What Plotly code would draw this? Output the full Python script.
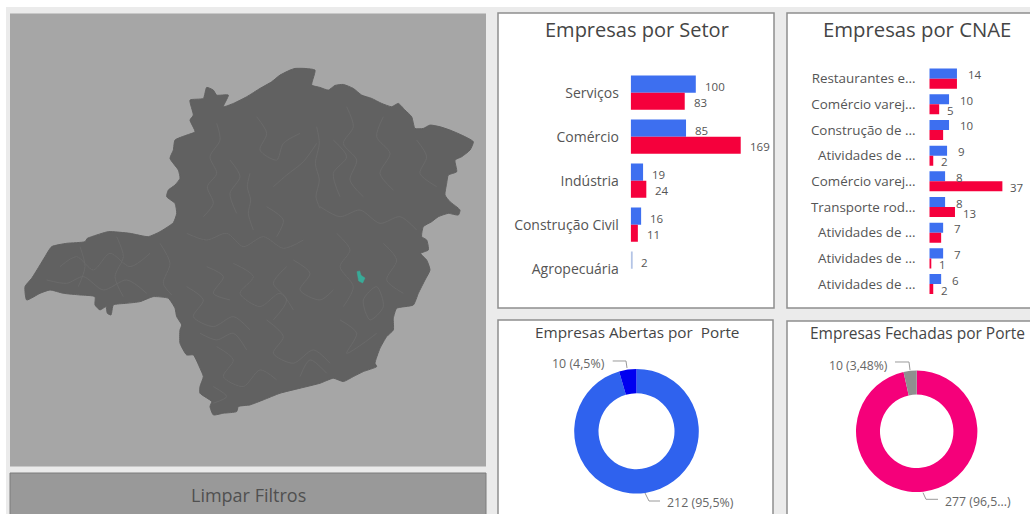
import plotly.graph_objects as go

W, H = 1030, 514

# ---------- data ----------
SETOR_CATS = ["Serviços", "Comércio", "Indústria", "Construção Civil", "Agropecuária"]
SETOR_ABERTAS = [100, 85, 19, 16, 2]
SETOR_FECHADAS = [83, 169, 24, 11, None]

CNAE_CATS = ["Restaurantes e...", "Comércio varej...", "Construção de ...", "Atividades de ...",
             "Comércio varej...", "Transporte rod...", "Atividades de ...", "Atividades de ...",
             "Atividades de ..."]
CNAE_ABERTAS = [14, 10, 10, 9, 8, 8, 7, 7, 6]
CNAE_FECHADAS = [14, 5, 7, 2, 37, 13, 6, 1, 2]
CNAE_FECHADAS_LABEL = [False, True, False, True, True, True, False, True, True]

ABERTAS_VALUES = [212, 10]
ABERTAS_TEXT = ["212 (95,5%)", "10 (4,5%)"]
FECHADAS_VALUES = [277, 10]
FECHADAS_TEXT = ["277 (96,5...)", "10 (3,48%)"]

# Outline of the state in map units
MAP_X = [885,915,945,938,935,960,985,1005,1030,1060,1085,1115,1145,1175,1195,1215,1235,1245,1270,1290,1320,1350,1385,1420,
         1410,1385,1365,1370,1345,1340,1335,1350,1380,1375,1345,1315,1295,1270,1265,1280,1285,1262,1280,1290,1275,1255,1240,
         1190,1180,1180,1160,1140,1125,1130,1090,1060,1030,1000,960,900,840,790,750,715,710,670,640,630,635,600,600,610,600,
         580,560,540,540,545,530,525,505,460,420,380,340,333,322,318,300,285,285,240,190,150,120,80,75,95,120,135,155,200,255,
         262,275,325,390,445,480,520,530,525,500,505,525,540,535,510,520,525,560,585,570,580,570,610,620,640,650,685,670,700,
         740,780,815,840,870,885]
MAP_Y = [205,205,210,240,255,262,270,256,253,265,285,295,310,320,310,330,350,385,385,375,380,390,405,425,
         450,470,480,515,525,550,585,605,630,645,640,650,665,680,710,720,750,760,780,810,840,880,915,
         925,955,990,1010,1045,1090,1100,1115,1130,1145,1135,1150,1165,1180,1200,1215,1220,1235,1240,1245,1220,1205,1180,1160,1130,1105,
         1065,1065,1030,990,975,950,925,895,890,905,910,915,945,940,920,930,915,890,885,880,870,880,900,860,835,795,770,740,730,725,
         715,710,695,700,710,695,668,640,610,590,570,555,535,510,475,450,420,405,395,360,345,300,295,262,270,285,285,320,310,
         290,265,245,225,210,205]

# Faint municipal borders inside the state, estimated in map units
BORDER_LINES = [
    [(750,520),(742,560),(752,600),(745,640),(760,690)],
    [(950,380),(958,430),(946,490),(958,540),(948,590),(960,625)],
    [(820,560),(860,525),(910,485),(950,430)],
    [(610,650),(640,610),(622,560),(650,520),(630,470),(660,420),(650,370)],
    [(770,350),(800,400),(780,450),(830,480),(850,430),(900,400)],
    [(1040,320),(1060,380),(1030,430),(1070,480),(1050,540),(1090,590)],
    [(1150,350),(1130,410),(1170,460),(1140,520),(1180,570)],
    [(1250,420),(1280,470),(1260,520),(1310,560)],
    [(960,620),(1020,650),(1080,630),(1140,670),(1200,650),(1250,690)],
    [(560,700),(620,720),(680,700),(730,740),(790,710),(850,745),(910,720)],
    [(1010,700),(1050,750),(1020,800),(1060,860),(1030,920)],
    [(1150,730),(1190,780),(1160,840),(1210,880)],
    [(880,780),(930,820),(900,870),(960,900),(1000,870)],
    [(700,790),(760,830),(720,880),(780,920),(840,880),(880,930)],
    [(560,860),(610,900),(580,950),(640,980),(700,950),(750,990)],
    [(800,960),(850,1010),(820,1060),(880,1090),(940,1050),(990,1090)],
    [(1020,960),(1070,1000),(1040,1060),(1090,1030),(1130,1000)],
    [(650,1040),(700,1080),(670,1130),(730,1160),(780,1110),(830,1140)],
    [(640,1160),(680,1190),(640,1210)],
    [(180,800),(230,770),(280,810),(330,760),(390,800),(450,760)],
    [(140,840),(200,850),(250,830),(310,870),(380,840),(440,880)],
    [(350,710),(370,770),(345,830),(370,890)],
    [(480,730),(510,790),(490,850),(515,885)],
    [(240,740),(255,800),(235,860)],
    [(600,1000),(650,1020),(700,1000),(740,1050)],
    [(900,1130),(930,1080),(980,1120)],
    [(1090,900),(1110,960),(1150,920),(1130,860),(1090,900)],
    [(620,800),(670,830),(640,880),(690,900)],
    [(800,620),(850,660),(830,710)],
    [(1000,420),(1040,470),(1000,520),(1020,590)],
    [(690,480),(720,530),(690,580),(710,640)],
    [(860,800),(820,850),(860,900),(820,960)],
]

# Highlighted municipality
HIGHLIGHT_X = [1071,1079,1083,1095,1088,1076,1071]
HIGHLIGHT_Y = [815,813,826,834,849,843,815]

# ---------- style ----------
BLUE = "#3d6ff0"
RED = "#f5003c"
TEXT = "#555555"
TITLE = "#454545"
FONT = "Open Sans"


def px(x):
    return x / W


def py(y):
    return 1 - y / H


fig = go.Figure()

# ---------- map ----------
border_x, border_y = [], []
for line in BORDER_LINES:
    border_x += [p[0] for p in line] + [None]
    border_y += [p[1] for p in line] + [None]

fig.add_trace(go.Scatter(x=MAP_X, y=MAP_Y, mode="lines", fill="toself", fillcolor="#616161",
                         line=dict(color="#616161", width=1, shape="spline", smoothing=0.5),
                         hoverinfo="skip", xaxis="x4", yaxis="y4"))
fig.add_trace(go.Scatter(x=border_x, y=border_y, mode="lines",
                         line=dict(color="#6c6c6c", width=0.8, shape="spline", smoothing=0.8),
                         connectgaps=False, hoverinfo="skip", xaxis="x4", yaxis="y4"))
fig.add_trace(go.Scatter(x=HIGHLIGHT_X, y=HIGHLIGHT_Y, mode="lines", fill="toself", fillcolor="#38ab98",
                         line=dict(color="#38ab98", width=0.5), hoverinfo="skip", xaxis="x4", yaxis="y4"))

# ---------- bars ----------
agro_colors = [BLUE] * (len(SETOR_CATS) - 1) + ["#b4c4e6"]
fig.add_trace(go.Bar(y=SETOR_CATS, x=SETOR_ABERTAS, orientation="h", marker=dict(color=agro_colors, line_width=0),
                     xaxis="x", yaxis="y", offsetgroup="a", hoverinfo="skip"))
fig.add_trace(go.Bar(y=SETOR_CATS, x=SETOR_FECHADAS, orientation="h", marker=dict(color=RED, line_width=0),
                     xaxis="x", yaxis="y", offsetgroup="b", hoverinfo="skip"))
y2_index = list(range(len(CNAE_CATS)))
fig.add_trace(go.Bar(y=y2_index, x=CNAE_ABERTAS, orientation="h", marker=dict(color=BLUE, line_width=0),
                     xaxis="x2", yaxis="y2", offsetgroup="a", hoverinfo="skip"))
fig.add_trace(go.Bar(y=y2_index, x=CNAE_FECHADAS, orientation="h", marker=dict(color=RED, line_width=0),
                     xaxis="x2", yaxis="y2", offsetgroup="b", hoverinfo="skip"))

annotations = []


def value_label(x, y, xref, yref, yshift, xshift):
    annotations.append(dict(x=x, y=y, xref=xref, yref=yref, text=str(x), showarrow=False, xanchor="left",
                            xshift=xshift, yshift=yshift, font=dict(family=FONT, size=11.5, color=TEXT)))


for cat, a, b in zip(SETOR_CATS, SETOR_ABERTAS, SETOR_FECHADAS):
    value_label(a, cat, "x", "y", 6, 7)
    if b is not None:
        value_label(b, cat, "x", "y", -10, 7)
for i, (a, b, show) in enumerate(zip(CNAE_ABERTAS, CNAE_FECHADAS, CNAE_FECHADAS_LABEL)):
    value_label(a, i, "x2", "y2", 4, 9)
    if show:
        value_label(b, i, "x2", "y2", -6, 6)


# ---------- donuts ----------
def donut_domain(cx, cy, r):
    return dict(x=[px(cx - r), px(cx + r)], y=[py(cy + r), py(cy - r)])


fig.add_trace(go.Pie(values=ABERTAS_VALUES, hole=0.61, sort=False, direction="clockwise", rotation=0,
                     marker=dict(colors=["#2f62ee", "#0000f0"], line_width=0), textinfo="none", showlegend=False,
                     domain=donut_domain(636.5, 431.2, 62.3), hoverinfo="skip"))
fig.add_trace(go.Pie(values=FECHADAS_VALUES, hole=0.605, sort=False, direction="clockwise", rotation=0,
                     marker=dict(colors=["#f5007a", "#8f8f8f"], line_width=0), textinfo="none", showlegend=False,
                     domain=donut_domain(916.7, 431.3, 60.7), hoverinfo="skip"))


def page_text(text, x, y, size, color, anchor="center"):
    annotations.append(dict(x=px(x), y=py(y), xref="paper", yref="paper", text=text, showarrow=False,
                            xanchor=anchor, yanchor="middle", font=dict(family=FONT, size=size, color=color)))


page_text("Empresas por Setor", 637, 29, 20, TITLE)
page_text("Empresas por CNAE", 917, 29, 20.3, TITLE)
page_text("Empresas Abertas por  Porte", 636.5, 331.5, 15.3, TITLE)
page_text("Empresas Fechadas por Porte", 917.5, 332.5, 15.5, TITLE)
page_text("Limpar Filtros", 248, 495, 18, "#505050")
page_text(ABERTAS_TEXT[1], 607, 363, 12.4, "#666666", "right")
page_text(ABERTAS_TEXT[0], 665, 502, 12.4, "#666666", "left")
page_text(FECHADAS_TEXT[1], 890, 365.7, 12.2, "#666666", "right")
page_text(FECHADAS_TEXT[0], 943, 501.7, 12.3, "#666666", "left")


# ---------- page furniture ----------
def box(x0, y0, x1, y1, fill, line=None, width=0):
    return dict(type="rect", xref="paper", yref="paper", x0=px(x0), x1=px(x1), y0=py(y1), y1=py(y0),
                fillcolor=fill, line=dict(color=line or fill, width=width), layer="below")


def seg(points):
    path = "M " + " L ".join(f"{px(x):.5f} {py(y):.5f}" for x, y in points)
    return dict(type="path", xref="paper", yref="paper", path=path, line=dict(color="#9a9a9a", width=1))


shapes = [
    box(0, 0, 1030, 514, "#ebebeb"),
    box(0, 0, 1030, 7, "#ffffff"),
    box(0, 0, 6, 514, "#ffffff"),
    box(10, 13.5, 486, 466.5, "#a6a6a6"),
    box(10, 473, 486, 515, "#999999", "#7d7d7d", 1),
    box(498, 13, 774, 308, "#ffffff", "#8f8f8f", 1.5),
    box(787, 13, 1032, 308, "#ffffff", "#8f8f8f", 1.5),
    box(498, 320, 773, 516, "#ffffff", "#8f8f8f", 1.5),
    box(787, 321, 1032, 516, "#ffffff", "#8f8f8f", 1.5),
    seg([(612.7, 361), (626, 361), (627, 368)]),
    seg([(645, 493), (649, 501), (660, 501)]),
    seg([(895, 362), (909, 362), (910, 370)]),
    seg([(923, 492.7), (926, 499.3), (938, 499.3)]),
]

axis_hidden = dict(visible=False, fixedrange=True)
fig.update_layout(
    width=W, height=H, margin=dict(l=0, r=0, t=0, b=0), autosize=False,
    paper_bgcolor="#ffffff", plot_bgcolor="rgba(0,0,0,0)", showlegend=False,
    barmode="group", bargap=0.22, bargroupgap=0,
    xaxis=dict(domain=[px(630.7), px(770)], range=[0, (770 - 630.7) / 0.651], visible=False, anchor="y"),
    yaxis=dict(domain=[py(290.7), py(70.7)], anchor="x", autorange="reversed", type="category",
               showline=False, showgrid=False, zeroline=False, ticks="outside", ticklen=8, tickcolor="rgba(0,0,0,0)",
               tickfont=dict(family=FONT, size=14, color=TEXT)),
    xaxis2=dict(domain=[px(929.3), px(1028)], range=[0, (1028 - 929.3) / 1.975], visible=False, anchor="y2"),
    yaxis2=dict(domain=[py(296.9), py(65.8)], anchor="x2", range=[8.5, -0.5], tickmode="array", tickvals=y2_index,
                ticktext=CNAE_CATS, showline=False, showgrid=False, zeroline=False, ticks="outside", ticklen=10,
                tickcolor="rgba(0,0,0,0)", tickfont=dict(family=FONT, size=13.4, color=TEXT)),
    xaxis4=dict(domain=[px(10), px(486)], range=[30, 1458], anchor="y4", **axis_hidden),
    yaxis4=dict(domain=[py(466.5), py(13.5)], range=[1400, 40], anchor="x4", **axis_hidden),
    shapes=shapes,
    annotations=annotations,
)

fig.write_html("out.html", config={"displayModeBar": False},
               post_script="document.body.style.margin='0';document.documentElement.style.overflow='hidden';")
